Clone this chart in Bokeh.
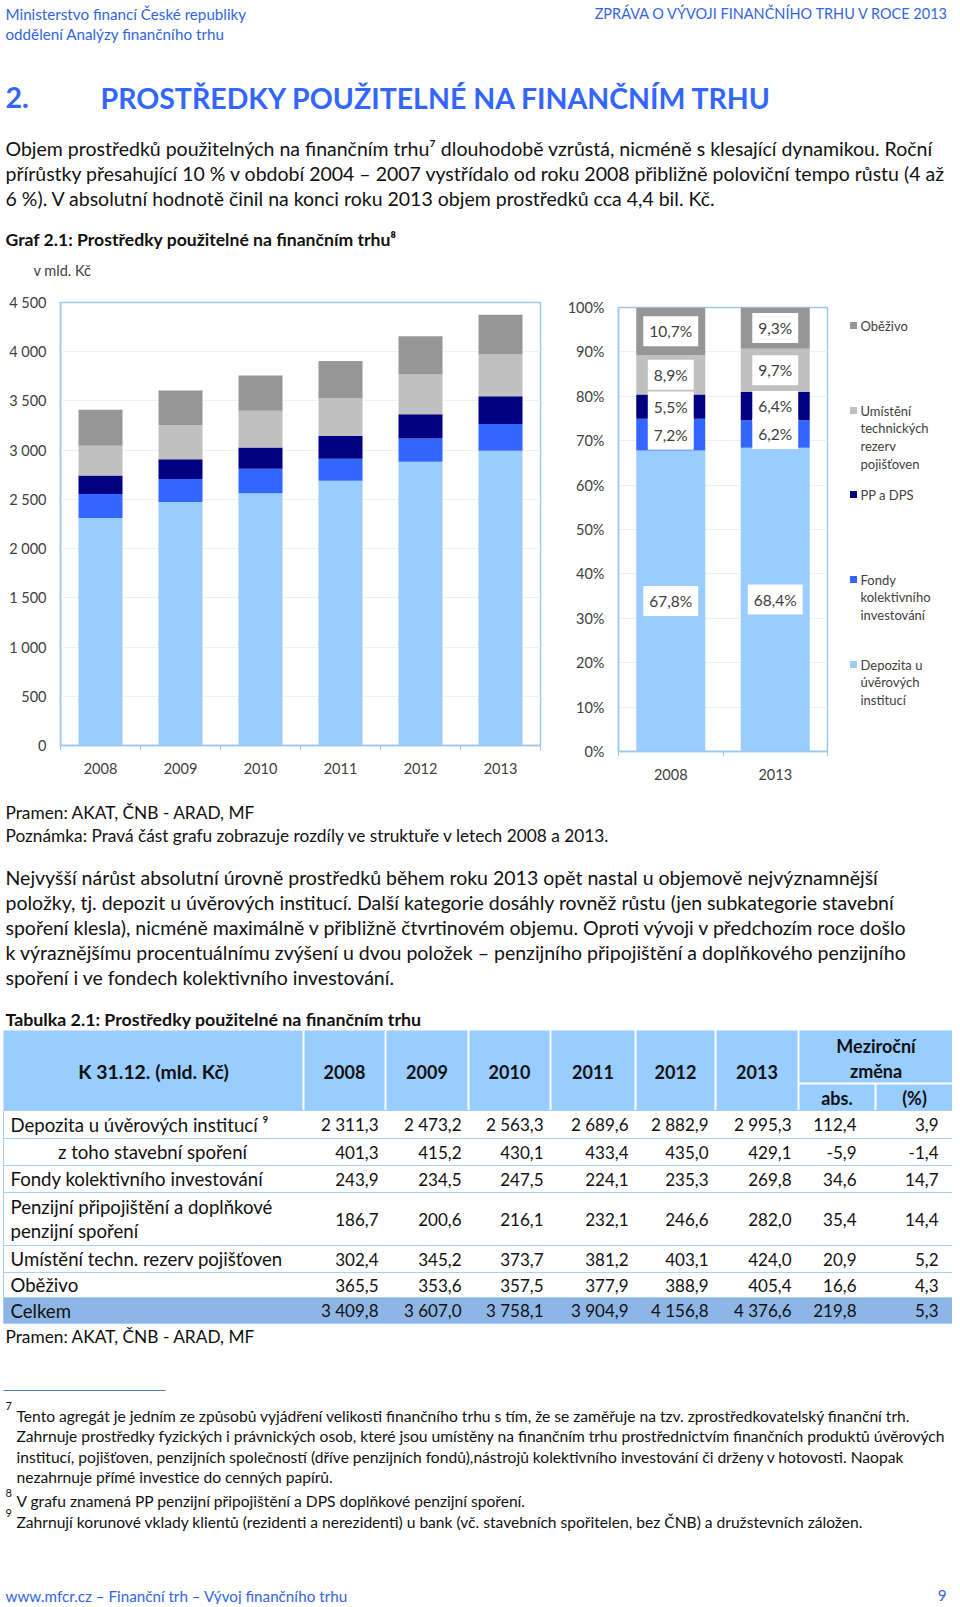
from bokeh.plotting import figure
from bokeh.layouts import column, row
from bokeh.models import Range1d, FixedTicker, ColumnDataSource
from bokeh.core.properties import value
from bokeh.embed import file_html
from bokeh.resources import INLINE

# ---------------- data ----------------
years = ["2008", "2009", "2010", "2011", "2012", "2013"]
depozita = [2311.3, 2473.2, 2563.3, 2689.6, 2882.9, 2995.3]
stavebni = [401.3, 415.2, 430.1, 433.4, 435.0, 429.1]
fondy = [243.9, 234.5, 247.5, 224.1, 235.3, 269.8]
pp_dps = [186.7, 200.6, 216.1, 232.1, 246.6, 282.0]
umisteni = [302.4, 345.2, 373.7, 381.2, 403.1, 424.0]
obezivo = [365.5, 353.6, 357.5, 377.9, 388.9, 405.4]
celkem = [3409.8, 3607.0, 3758.1, 3904.9, 4156.8, 4376.6]
zmena_abs = [112.4, -5.9, 34.6, 35.4, 20.9, 16.6, 219.8]
zmena_pct = [3.9, -1.4, 14.7, 14.4, 5.2, 4.3, 5.3]

series_names = ["Depozita u úvěrových institucí", "Fondy kolektivního investování",
                "PP a DPS", "Umístění technických rezerv pojišťoven", "Oběživo"]
series_colors = ["#99CCFF", "#3366FF", "#000080", "#C0C0C0", "#969696"]
legend_labels = ["Depozita u\núvěrových\ninstitucí", "Fondy\nkolektivního\ninvestování",
                 "PP a DPS", "Umístění\ntechnických\nrezerv\npojišťoven", "Oběživo"]
share_years = ["2008", "2013"]
abs_ticks = [0, 500, 1000, 1500, 2000, 2500, 3000, 3500, 4000, 4500]
pct_ticks = [0, 0.1, 0.2, 0.3, 0.4, 0.5, 0.6, 0.7, 0.8, 0.9, 1.0]

table_labels = ["Depozita u úvěrových institucí \u2079", "z toho stavební spoření",
                "Fondy kolektivního investování", "Penzijní připojištění a doplňkové\npenzijní spoření",
                "Umístění techn. rezerv pojišťoven", "Oběživo", "Celkem"]
table_values = [depozita, stavebni, fondy, pp_dps, umisteni, obezivo, celkem]

FONT = "Lato"
FRAME = "#9DC8F0"
TICK_COLOR = "#404040"
TEXT = "#111111"
BLUE_HDR = "#3366DD"
BLUE_H1 = "#3366FF"
PAGE_W = 952
BODY = "19.5px"
NOTE = "17.3px"
FOOT = "15.6px"


def cz(v, dec=1):
    s = f"{abs(v):,.{dec}f}".replace(",", " ").replace(".", ",")
    return ("-" if v < 0 else "") + s


def page_fig(y0, y1):
    p = figure(width=PAGE_W, height=y1 - y0, x_range=Range1d(0, PAGE_W), y_range=Range1d(y1, y0),
               toolbar_location=None, output_backend="svg", min_border=0,
               x_axis_location=None, y_axis_location=None)
    p.grid.visible = False
    p.outline_line_color = None
    return p


def txt(p, x, y, s, size, color=TEXT, bold=False, align="left", font=FONT):
    p.text(x=[x], y=[y], text=[s], text_font=value(font), text_font_size=size,
           text_color=color, text_align=align, text_baseline="middle",
           text_font_style="bold" if bold else "normal")


# ---------------- top part of page ----------------
top = page_fig(0, 280)
txt(top, 5, 13, "Ministerstvo financí České republiky", "15.2px", BLUE_HDR)
txt(top, 5, 33, "oddělení Analýzy finančního trhu", "15.2px", BLUE_HDR)
txt(top, 949, 13, "ZPRÁVA O VÝVOJI FINANČNÍHO TRHU V ROCE 2013", "14.5px", BLUE_HDR, align="right")
txt(top, 5, 97, "2.", "28.5px", BLUE_H1, bold=True)
txt(top, 100, 97, "PROSTŘEDKY POUŽITELNÉ NA FINANČNÍM TRHU", "28.5px", BLUE_H1, bold=True)
para1 = ["Objem prostředků použitelných na finančním trhu\u2077 dlouhodobě vzrůstá, nicméně s klesající dynamikou. Roční",
         "přírůstky přesahující 10 % v období 2004 – 2007 vystřídalo od roku 2008 přibližně poloviční tempo růstu (4 až",
         "6 %). V absolutní hodnotě činil na konci roku 2013 objem prostředků cca 4,4 bil. Kč."]
for i, line in enumerate(para1):
    txt(top, 5, 148 + i * 25, line, BODY)
txt(top, 5, 239, "Graf 2.1: Prostředky použitelné na finančním trhu\u2078", "17.6px", bold=True)
txt(top, 33, 270, "v mld. Kč", "14.5px", TICK_COLOR)

# ---------------- left chart: absolute values ----------------
src1 = ColumnDataSource(dict(x=[1, 2, 3, 4, 5, 6], s0=depozita, s1=fondy, s2=pp_dps,
                             s3=umisteni, s4=obezivo))
c1 = figure(width=548, height=510, x_range=Range1d(0.5, 6.5), y_range=Range1d(0, 4500),
            toolbar_location=None, output_backend="svg",
            min_border_left=60, min_border_right=8, min_border_top=22, min_border_bottom=45)
c1.vbar_stack(["s0", "s1", "s2", "s3", "s4"], x="x", width=0.55, fill_color=series_colors,
              line_color=None, source=src1)
c1.xaxis.ticker = FixedTicker(ticks=[1, 2, 3, 4, 5, 6], minor_ticks=[0.5, 1.5, 2.5, 3.5, 4.5, 5.5, 6.5])
c1.xaxis.major_label_overrides = {i + 1: y for i, y in enumerate(years)}
c1.yaxis.ticker = FixedTicker(ticks=abs_ticks)
c1.yaxis.major_label_overrides = {t: cz(t, 0) for t in abs_ticks}

# ---------------- right chart: structure ----------------
idx = [years.index(y) for y in share_years]
shares = [[s[i] / celkem[i] for i in idx] for s in [depozita, fondy, pp_dps, umisteni, obezivo]]
src2 = ColumnDataSource(dict(x=[1, 2], s0=shares[0], s1=shares[1], s2=shares[2],
                             s3=shares[3], s4=shares[4]))
c2 = figure(width=292, height=510, x_range=Range1d(0.5, 2.5), y_range=Range1d(0, 1),
            toolbar_location=None, output_backend="svg",
            min_border_left=70, min_border_right=13, min_border_top=27, min_border_bottom=39)
c2.vbar_stack(["s0", "s1", "s2", "s3", "s4"], x="x", width=0.66, fill_color=series_colors,
              line_color=None, source=src2)
lx, ly, lt = [], [], []
for j in range(2):
    base = 0.0
    for k in range(5):
        v = shares[k][j]
        lx.append(j + 1)
        ly.append(base + v / 2)
        lt.append(f"{v * 100:.1f}".replace(".", ",") + "%")
        base += v
c2.text(x=lx, y=ly, text=lt, text_font=value(FONT), text_font_size="15.5px",
        text_color=TICK_COLOR, text_align="center", text_baseline="middle",
        background_fill_color="white", padding=6)
c2.xaxis.ticker = FixedTicker(ticks=[1, 2], minor_ticks=[0.5, 1.5, 2.5])
c2.xaxis.major_label_overrides = {i + 1: y for i, y in enumerate(share_years)}
c2.yaxis.ticker = FixedTicker(ticks=pct_ticks)
c2.yaxis.major_label_overrides = {t: f"{round(t * 100)}%" for t in pct_ticks}

for c in (c1, c2):
    c.outline_line_color = FRAME
    c.outline_line_width = 1.5
    c.xgrid.visible = False
    c.ygrid.grid_line_color = "#F0F0F0"
    c.background_fill_color = "white"
    for ax in (c.xaxis[0], c.yaxis[0]):
        ax.axis_line_color = FRAME
        ax.axis_line_width = 1.5
        ax.major_label_text_font = FONT
        ax.major_label_text_font_size = "14.5px"
        ax.major_label_text_color = TICK_COLOR
        ax.major_tick_line_color = None
        ax.major_tick_out = 0
        ax.major_tick_in = 0
    c.xaxis.minor_tick_line_color = FRAME
    c.xaxis.minor_tick_out = 5
    c.xaxis.minor_tick_in = 0
    c.yaxis.minor_tick_line_color = None
    c.xaxis.major_label_standoff = 12
    c.yaxis.major_label_standoff = 14

# ---------------- legend (frame 302..745 on the page) ----------------
leg = figure(width=112, height=510, x_range=Range1d(840, 952), y_range=Range1d(745, 302),
             toolbar_location=None, output_backend="svg", min_border=0,
             min_border_top=22, min_border_bottom=45,
             x_axis_location=None, y_axis_location=None)
leg.grid.visible = False
leg.outline_line_color = None
leg_y = [664, 579, 494, 410, 325]
for k in range(5):
    leg.rect(x=[853], y=[leg_y[k]], width=7, height=7, fill_color=series_colors[k], line_color=None)
    for i, line in enumerate(legend_labels[k].split("\n")):
        txt(leg, 860, leg_y[k] + i * 17.7, line, "13px", TICK_COLOR)

# ---------------- bottom part of page ----------------
bot = page_fig(790, 1604)
txt(bot, 5, 812, "Pramen: AKAT, ČNB - ARAD, MF", NOTE)
txt(bot, 5, 835, "Poznámka: Pravá část grafu zobrazuje rozdíly ve struktuře v letech 2008 a 2013.", NOTE)
para2 = ["Nejvyšší nárůst absolutní úrovně prostředků během roku 2013 opět nastal u objemově nejvýznamnější",
         "položky, tj. depozit u úvěrových institucí. Další kategorie dosáhly rovněž růstu (jen subkategorie stavební",
         "spoření klesla), nicméně maximálně v přibližně čtvrtinovém objemu. Oproti vývoji v předchozím roce došlo",
         "k výraznějšímu procentuálnímu zvýšení u dvou položek – penzijního připojištění a doplňkového penzijního",
         "spoření i ve fondech kolektivního investování."]
for i, line in enumerate(para2):
    txt(bot, 5, 877 + i * 25, line, BODY)
txt(bot, 5, 1018, "Tabulka 2.1: Prostředky použitelné na finančním trhu", "17.8px", bold=True)

# table
col_edges = [3, 303, 385, 468, 550, 635, 715, 798, 875, 953]
row_edges = [1110, 1138, 1165, 1192, 1245, 1272, 1297, 1323]
HDR_FILL = "#99CCFF"
TOT_FILL = "#8DB6E6"
LINE = "#A8CFF5"
LAB = "18.6px"
NUM = "17px"
HDR = "18px"
bot.quad(left=[3], right=[953], top=[1030], bottom=[1110], fill_color=HDR_FILL, line_color=None)
bot.quad(left=[3], right=[953], top=[row_edges[-2]], bottom=[row_edges[-1]], fill_color=TOT_FILL, line_color=None)
bot.segment(x0=col_edges[1:8], y0=[1030] * 7, x1=col_edges[1:8], y1=[1110] * 7, line_color="white", line_width=2)
bot.segment(x0=[798, 875], y0=[1083, 1083], x1=[953, 875], y1=[1083, 1110], line_color="white", line_width=2)
bot.segment(x0=[3] * len(row_edges), y0=row_edges, x1=[953] * len(row_edges), y1=row_edges,
            line_color=LINE, line_width=1)
bot.segment(x0=[3, 953], y0=[1110, 1110], x1=[3, 953], y1=[1323, 1323], line_color=LINE, line_width=1)

txt(bot, 153, 1071, "K 31.12. (mld. Kč)", "19.4px", bold=True, align="center")
for j, y in enumerate(years):
    txt(bot, (col_edges[j + 1] + col_edges[j + 2]) / 2, 1071, y, HDR, bold=True, align="center")
txt(bot, 875.5, 1045, "Meziroční", HDR, bold=True, align="center")
txt(bot, 875.5, 1070, "změna", HDR, bold=True, align="center")
txt(bot, 836.5, 1097, "abs.", HDR, bold=True, align="center")
txt(bot, 914, 1097, "(%)", HDR, bold=True, align="center")

for r, lab in enumerate(table_labels):
    yc = (row_edges[r] + row_edges[r + 1]) / 2
    if r == 1:
        txt(bot, 152, yc, lab, LAB, align="center")
    elif "\n" in lab:
        a, b = lab.split("\n")
        txt(bot, 10, yc - 12.5, a, LAB)
        txt(bot, 10, yc + 12, b, LAB)
    else:
        txt(bot, 10, yc, lab, LAB)
    for j in range(6):
        txt(bot, col_edges[j + 2] - 7, yc, cz(table_values[r][j]), NUM, align="right")
    txt(bot, 856, yc, cz(zmena_abs[r]), NUM, align="right")
    txt(bot, 938, yc, cz(zmena_pct[r]), NUM, align="right")

txt(bot, 5, 1336, "Pramen: AKAT, ČNB - ARAD, MF", NOTE)

# footnotes
bot.segment(x0=[3], y0=[1390], x1=[165], y1=[1390], line_color="#4F81BD", line_width=1)
fn7 = ["Tento agregát je jedním ze způsobů vyjádření velikosti finančního trhu s tím, že se zaměřuje na tzv. zprostředkovatelský finanční trh.",
       "Zahrnuje prostředky fyzických i právnických osob, které jsou umístěny na finančním trhu prostřednictvím finančních produktů úvěrových",
       "institucí, pojišťoven, penzijních společností (dříve penzijních fondů),nástrojů kolektivního investování či drženy v hotovosti. Naopak",
       "nezahrnuje přímé investice do cenných papírů."]
txt(bot, 5, 1405, "7", "11px")
for i, line in enumerate(fn7):
    txt(bot, 16, 1415 + i * 20.5, line, FOOT)
txt(bot, 5, 1492, "8", "11px")
txt(bot, 16, 1500, "V grafu znamená PP penzijní připojištění a DPS doplňkové penzijní spoření.", FOOT)
txt(bot, 5, 1512, "9", "11px")
txt(bot, 16, 1521, "Zahrnují korunové vklady klientů (rezidenti a nerezidenti) u bank (vč. stavebních spořitelen, bez ČNB) a družstevních záložen.", FOOT)

txt(bot, 5, 1595, "www.mfcr.cz – Finanční trh – Vývoj finančního trhu", "15.2px", BLUE_HDR)
txt(bot, 946, 1595, "9", "15.2px", BLUE_HDR, align="right")

layout = column(top, row(column(c1), column(c2), column(leg)), bot)
open("out.html", "w").write(file_html(layout, INLINE))
